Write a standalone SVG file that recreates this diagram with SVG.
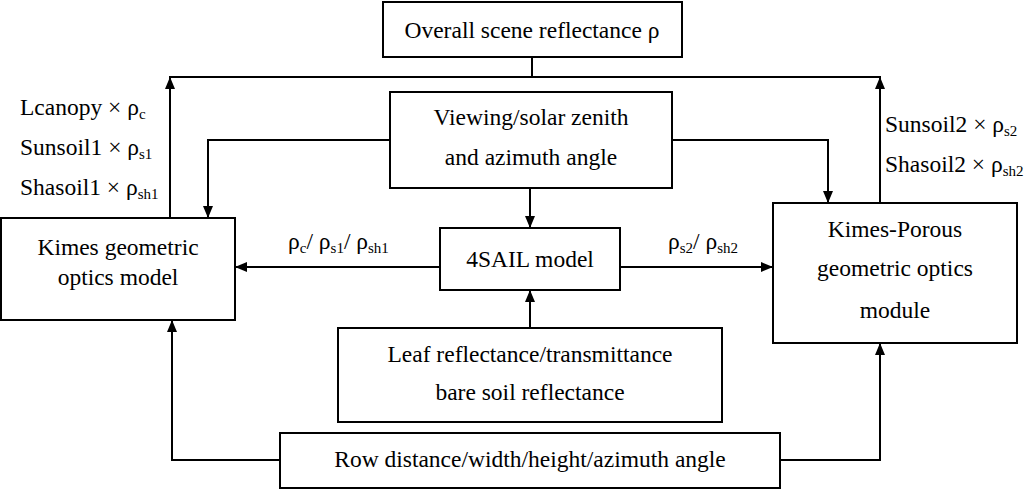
<svg xmlns="http://www.w3.org/2000/svg" width="1024" height="493" viewBox="0 0 1024 493">
<style>
.b{fill:#fff;stroke:#000;stroke-width:2}
.t{font-family:"Liberation Serif",serif;font-size:23.5px;fill:#000}
.m{text-anchor:middle}
.c{fill:none;stroke:#000;stroke-width:2}
.s{font-size:15px}
</style>
<defs><marker id="a" markerWidth="12" markerHeight="10" refX="11" refY="5" orient="auto" markerUnits="userSpaceOnUse"><path d="M0,0L12,5L0,10z" fill="#000"/></marker></defs>
<rect width="1024" height="493" fill="#fff"/>
<g id="connectors" class="c">
<path d="M532,57V77"/>
<path d="M170,218V77H880V218"/>
<path d="M170,218V78" marker-end="url(#a)"/>
<path d="M880,203V78" marker-end="url(#a)"/>
<path d="M390,140H208V217" marker-end="url(#a)"/>
<path d="M672,140H828V202" marker-end="url(#a)"/>
<path d="M530,188V227" marker-end="url(#a)"/>
<path d="M440,267H236" marker-end="url(#a)"/>
<path d="M620,267H772" marker-end="url(#a)"/>
<path d="M530,328V291" marker-end="url(#a)"/>
<path d="M280,460H172V321" marker-end="url(#a)"/>
<path d="M780,460H880V344" marker-end="url(#a)"/>
</g>
<g id="top"><rect class="b" x="383" y="2" width="299" height="55"/><text class="t m" x="532" y="38">Overall scene reflectance ρ</text></g>
<g id="view"><rect class="b" x="390" y="92" width="282" height="96"/><text class="t m" x="531" y="125">Viewing/solar zenith</text><text class="t m" x="531" y="165">and azimuth angle</text></g>
<g id="sail"><rect class="b" x="440" y="228" width="180" height="62"/><text class="t m" x="530" y="267">4SAIL model</text></g>
<g id="kimes"><rect class="b" x="1" y="218" width="234" height="102"/><text class="t m" x="118" y="255">Kimes geometric</text><text class="t m" x="118" y="285">optics model</text></g>
<g id="porous"><rect class="b" x="773" y="203" width="244" height="140"/><text class="t m" x="895" y="237">Kimes-Porous</text><text class="t m" x="895" y="276">geometric optics</text><text class="t m" x="895" y="318">module</text></g>
<g id="leaf"><rect class="b" x="338" y="328" width="384" height="94"/><text class="t m" x="530" y="362">Leaf reflectance/transmittance</text><text class="t m" x="530" y="400">bare soil reflectance</text></g>
<g id="row"><rect class="b" x="280" y="433" width="500" height="55"/><text class="t m" x="530" y="467">Row distance/width/height/azimuth angle</text></g>
<g id="labels" class="t">
<text x="20" y="115">Lcanopy × ρ<tspan class="s" dy="4">c</tspan></text>
<text x="20" y="155">Sunsoil1 × ρ<tspan class="s" dy="4">s1</tspan></text>
<text x="20" y="195">Shasoil1 × ρ<tspan class="s" dy="4">sh1</tspan></text>
<text x="885" y="132">Sunsoil2 × ρ<tspan class="s" dy="4">s2</tspan></text>
<text x="885" y="172">Shasoil2 × ρ<tspan class="s" dy="4">sh2</tspan></text>
<text x="288" y="249">ρ<tspan class="s" dy="4">c</tspan><tspan dy="-4">/ ρ</tspan><tspan class="s" dy="4">s1</tspan><tspan dy="-4">/ ρ</tspan><tspan class="s" dy="4">sh1</tspan></text>
<text x="668" y="249">ρ<tspan class="s" dy="4">s2</tspan><tspan dy="-4">/ ρ</tspan><tspan class="s" dy="4">sh2</tspan></text>
</g>
</svg>
